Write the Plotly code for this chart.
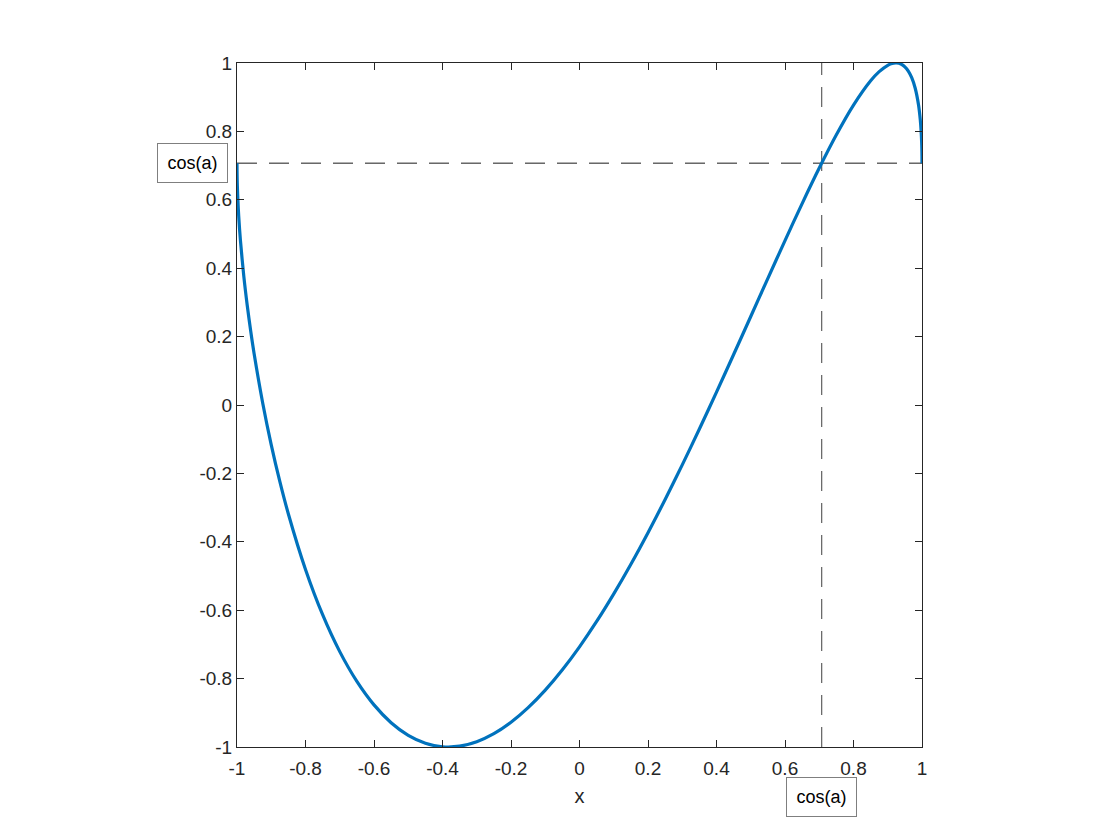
import plotly.graph_objects as go

# Points
x_vals = [-1.0, -0.9999, -0.9995, -0.999, -0.9975, -0.995, -0.99, -0.98, -0.97, -0.96, -0.95,
          -0.925, -0.9, -0.875, -0.85, -0.8, -0.75,
          -0.7, -0.65, -0.6, -0.55, -0.5, -0.45, -0.4, -0.35, -0.3, -0.25, -0.2, -0.15,
          -0.1, -0.05, 0.0, 0.05, 0.1, 0.15, 0.2, 0.25, 0.3, 0.35, 0.4, 0.45, 0.5, 0.55,
          0.6, 0.65, 0.7, 0.75, 0.8, 0.85, 0.875, 0.9, 0.91, 0.925, 0.94, 0.95, 0.96,
          0.97, 0.98, 0.99, 0.995, 0.9975, 0.999, 0.9995, 0.9999, 1.0]
y_vals = [0.7071, 0.6868, 0.6610, 0.6411, 0.6004, 0.5525, 0.4815, 0.3753, 0.2900, 0.2161, 0.1497,
          0.0059, -0.1164, -0.2234, -0.3186, -0.4808, -0.6132,
          -0.7211, -0.8082, -0.8768, -0.9289, -0.9659, -0.9890, -0.9993,
          -0.9975, -0.9846, -0.9611, -0.9277, -0.8850, -0.8337, -0.7742, -0.7071, -0.6330,
          -0.5523, -0.4656, -0.3734, -0.2764, -0.1751, -0.0702, 0.0376, 0.1476, 0.2588,
          0.3703, 0.4808, 0.5890, 0.6928, 0.7900, 0.8768, 0.9479, 0.9747, 0.9932, 0.9976,
          1.0000, 0.9960, 0.9887, 0.9764,
          0.9570, 0.9269, 0.8765, 0.8335, 0.7997, 0.7675, 0.7504, 0.7268, 0.7071]

cos_a = 0.7071
tick_vals = [-1, -0.8, -0.6, -0.4, -0.2, 0, 0.2, 0.4, 0.6, 0.8, 1]
tick_text = ["-1", "-0.8", "-0.6", "-0.4", "-0.2", "0", "0.2", "0.4", "0.6", "0.8", "1"]
label_text = "cos(a)"

FONT = "Liberation Sans, Arial, Helvetica"

fig = go.Figure()
fig.add_trace(go.Scatter(x=[-1, 1], y=[cos_a, cos_a], mode="lines",
                         line=dict(color="#1a1a1a", width=1, dash="20px,12px"),
                         hoverinfo="skip", showlegend=False))
fig.add_trace(go.Scatter(x=[cos_a, cos_a], y=[-1, 1], mode="lines",
                         line=dict(color="#606060", width=1.2, dash="20px,12px"),
                         hoverinfo="skip", showlegend=False))
fig.add_trace(go.Scatter(x=x_vals, y=y_vals, mode="lines",
                         line=dict(color="#0072BD", width=3.2, shape="spline", smoothing=0.8),
                         showlegend=False))

axis_common = dict(range=[-1, 1], tickvals=tick_vals, ticktext=tick_text,
                   ticks="inside", ticklen=7, tickcolor="#262626", tickwidth=1,
                   showline=True, linecolor="#262626", linewidth=1, mirror="ticks",
                   showgrid=False, zeroline=False,
                   tickfont=dict(family=FONT, size=19, color="#262626"))

fig.update_layout(
    width=1120, height=840,
    margin=dict(l=229, r=206, t=55, b=101),
    plot_bgcolor="white", paper_bgcolor="white",
    xaxis=dict(**axis_common, ticklabelstandoff=4,
               title=dict(text="x", font=dict(family=FONT, size=20, color="#262626"),
                          standoff=11)),
    yaxis=dict(**axis_common),
    annotations=[
        dict(x=-0.0136, y=(cos_a + 1) / 2, xref="paper", yref="paper", text=label_text,
             showarrow=False, xanchor="right", yanchor="middle", width=67, height=36,
             bordercolor="#7f7f7f", borderwidth=1, bgcolor="white",
             font=dict(family=FONT, size=18, color="black")),
        dict(x=(cos_a + 1) / 2, y=-0.0735, xref="paper", yref="paper", text=label_text,
             showarrow=False, xanchor="center", yanchor="middle", width=67, height=36,
             bordercolor="#7f7f7f", borderwidth=1, bgcolor="white",
             font=dict(family=FONT, size=18, color="black")),
    ],
)

fig.write_html("out.html")
